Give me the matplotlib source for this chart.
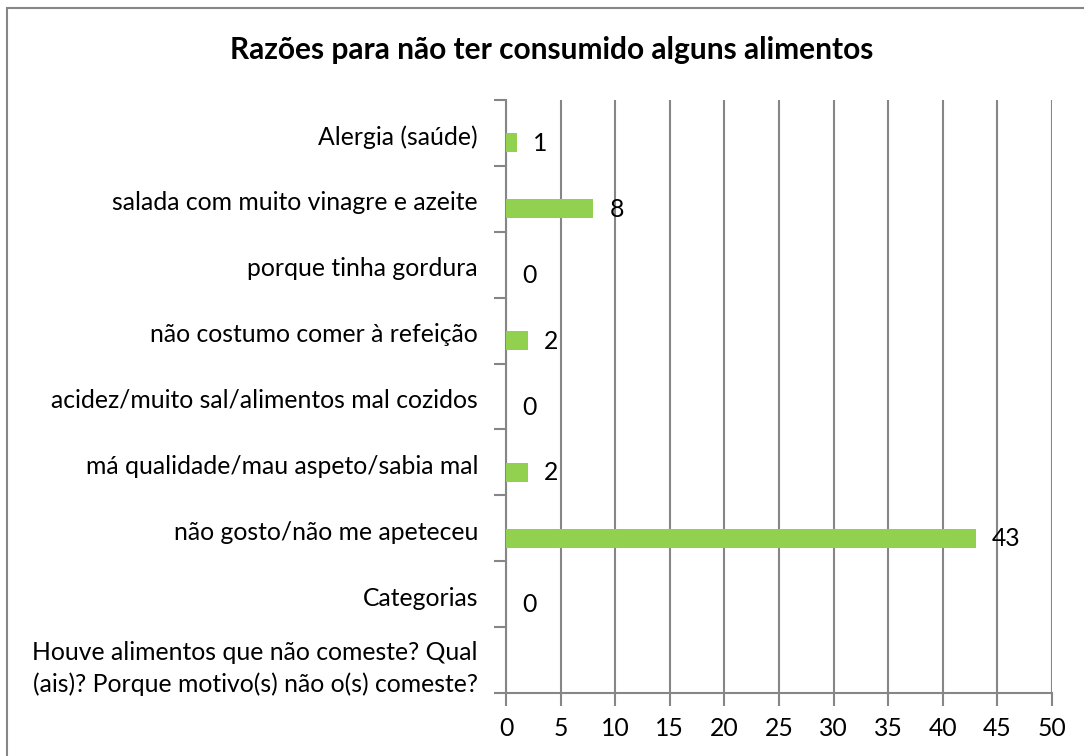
import matplotlib.pyplot as plt
import matplotlib.patches as patches
import matplotlib.transforms as mtransforms
import numpy as np

plt.rcParams['font.family'] = ['Lato', 'DejaVu Sans']

# categories from top to bottom, as they appear in the chart
categories = [
    "Alergia (saúde)",
    "salada com muito vinagre e azeite",
    "porque tinha gordura",
    "não costumo comer à refeição",
    "acidez/muito sal/alimentos mal cozidos",
    "má qualidade/mau aspeto/sabia mal",
    "não gosto/não me apeteceu",
    "Categorias",
    "Houve alimentos que não comeste? Qual\n(ais)? Porque motivo(s) não o(s) comeste?",
]
values = [1, 8, 0, 2, 0, 2, 43, 0, None]
x_ticks = [0, 5, 10, 15, 20, 25, 30, 35, 40, 45, 50]
title = "Razões para não ter consumido alguns alimentos"

bar_color = "#92D050"
grid_color = "#868686"
fs = 17.8

fig = plt.figure(figsize=(10.84, 7.56), dpi=100)
ax = fig.add_axes([506 / 1084, 63 / 756, 546 / 1084, 593 / 756])

pos = np.arange(len(categories))
bar_offset = 0.15
bar_h = 0.29

for i, v in enumerate(values):
    if v is None:
        continue
    ax.barh(pos[i] + bar_offset, v, height=bar_h, color=bar_color, zorder=3)
    ax.annotate(str(v), (v, pos[i] + bar_offset), xytext=(11.5, -0.5),
                textcoords='offset points', ha='left', va='center',
                fontsize=fs, color='black', zorder=4)

ax.set_xlim(0, 50)
ax.set_ylim(len(categories) - 0.5, -0.5)
ax.set_xticks(x_ticks)
ax.set_xticklabels([str(t) for t in x_ticks])

# category boundaries get the tick marks, labels sit in the middle
ax.set_yticks(np.arange(len(categories) + 1) - 0.5)
ax.set_yticklabels([])
ax.set_yticks(pos, minor=True)
ax.set_yticklabels(categories, minor=True, ha='center')
ax.tick_params(axis='y', which='minor', length=0, pad=0, labelsize=fs)
ax.tick_params(axis='y', which='major', length=9, width=1.5, color=grid_color, direction='out')
ax.tick_params(axis='x', length=9, width=1.5, color=grid_color, direction='out',
               labelsize=fs, pad=8)

# right-align single-line labels, centre the two-line one
fig.canvas.draw()
shift = mtransforms.ScaledTranslation(0, -2 / 100, fig.dpi_scale_trans)
for lab in ax.get_yticklabels(minor=True):
    lab.set_ha('right')
    lab.set_multialignment('center')
    lab.set_linespacing(1.45)
    lab.set_x(-28 / 546)
    lab.set_transform(ax.get_yaxis_transform() + shift)

ax.xaxis.grid(True, color=grid_color, linewidth=1.5, zorder=0)
ax.set_axisbelow(True)
for s in ['top', 'right']:
    ax.spines[s].set_visible(False)
for s in ['left', 'bottom']:
    ax.spines[s].set_color(grid_color)
    ax.spines[s].set_linewidth(1.5)

fig.text(552 / 1084, 1 - 50 / 756, title, ha='center', va='center',
         fontsize=21.5, fontweight='bold')

# chart area border (right and bottom edges fall outside the image)
fig.patches.append(patches.Rectangle((7 / 1084, -0.1), 1.2, 1 - 8 / 756 + 0.1,
                                     transform=fig.transFigure, fill=False,
                                     edgecolor=grid_color, linewidth=1.5))

fig.savefig("out.png", dpi=100)
